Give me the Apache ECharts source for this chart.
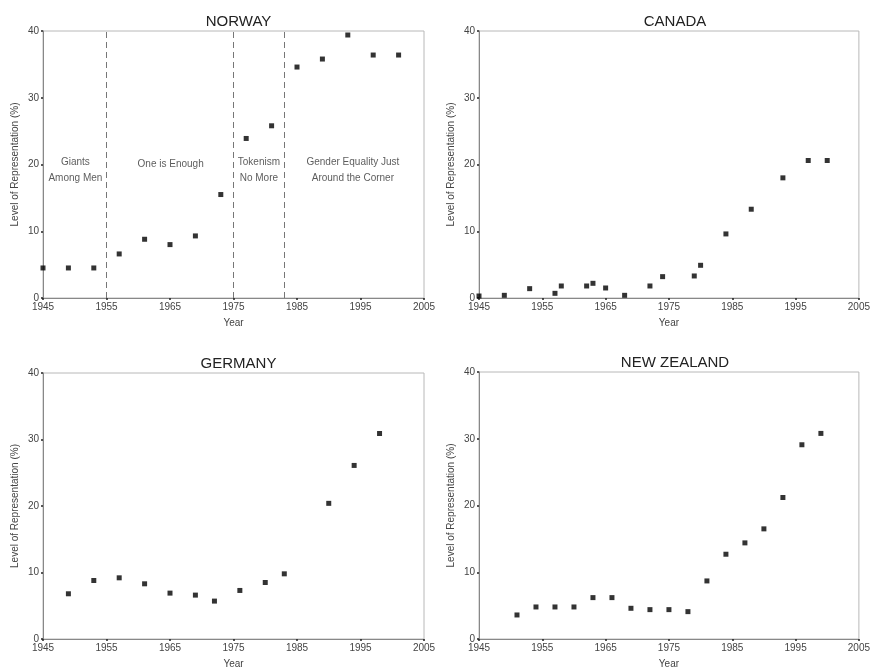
<!DOCTYPE html>
<html>
<head>
<meta charset="utf-8">
<script src="https://cdn.jsdelivr.net/npm/echarts@6/dist/echarts.min.js"></script>
<style>
html,body{margin:0;padding:0;background:#fff;}
#chart{width:873px;height:670px;}
</style>
</head>
<body>
<div id="chart"></div>
<script>
// ---- data ----
var panelTitles = ['NORWAY', 'CANADA', 'GERMANY', 'NEW ZEALAND'];
var xTicks = [1945, 1955, 1965, 1975, 1985, 1995, 2005];
var yTicks = [0, 10, 20, 30, 40];

var norwayYears  = [1945, 1949, 1953, 1957, 1961, 1965, 1969, 1973, 1977, 1981, 1985, 1989, 1993, 1997, 2001];
var norwayValues = [4.5, 4.5, 4.5, 6.6, 8.8, 8.0, 9.3, 15.5, 23.9, 25.8, 34.6, 35.8, 39.4, 36.4, 36.4];

var canadaYears  = [1945, 1949, 1953, 1957, 1958, 1962, 1963, 1965, 1968, 1972, 1974, 1979, 1980, 1984, 1988, 1993, 1997, 2000];
var canadaValues = [0.3, 0.4, 1.4, 0.7, 1.8, 1.8, 2.2, 1.5, 0.4, 1.8, 3.2, 3.3, 4.9, 9.6, 13.3, 18.0, 20.6, 20.6];

var germanyYears  = [1949, 1953, 1957, 1961, 1965, 1969, 1972, 1976, 1980, 1983, 1990, 1994, 1998];
var germanyValues = [6.8, 8.8, 9.2, 8.3, 6.9, 6.6, 5.7, 7.3, 8.5, 9.8, 20.4, 26.1, 30.9];

var nzYears  = [1951, 1954, 1957, 1960, 1963, 1966, 1969, 1972, 1975, 1978, 1981, 1984, 1987, 1990, 1993, 1996, 1999];
var nzValues = [3.6, 4.8, 4.8, 4.8, 6.2, 6.2, 4.6, 4.4, 4.4, 4.1, 8.7, 12.7, 14.4, 16.5, 21.2, 29.1, 30.8];

var eraBoundaries = [1955, 1975, 1983];
var eraLabels = ['Giants\nAmong Men', 'One is Enough', 'Tokenism\nNo More', 'Gender Equality Just\nAround the Corner'];
var eraLabelYears = [1950.1, 1965.1, 1979.0, 1993.8];
var eraLabelValues = [19.1, 20.0, 19.1, 19.1];

// ---- chart ----
var FONT = '"Liberation Sans", Arial, Helvetica, sans-serif';
var grids = [
  {left: 43, top: 31, width: 381, height: 267},
  {left: 479, top: 31, width: 382, height: 267},
  {left: 43, top: 373, width: 381, height: 267},
  {left: 479, top: 372, width: 382, height: 267}
];

function pairs(xs, ys) { return xs.map(function (x, i) { return [x, ys[i]]; }); }

var datasets = [
  pairs(norwayYears, norwayValues),
  pairs(canadaYears, canadaValues),
  pairs(germanyYears, germanyValues),
  pairs(nzYears, nzValues)
];

var option = {
  backgroundColor: '#fff',
  animation: false,
  textStyle: {fontFamily: FONT},
  title: grids.map(function (g, i) {
    return {
      text: panelTitles[i],
      left: g.left + g.width / 2,
      top: g.top - 22,
      textAlign: 'center',
      textStyle: {fontSize: 15, fontWeight: 'normal', color: '#222', fontFamily: FONT}
    };
  }),
  grid: grids.map(function (g) {
    return {left: g.left, top: g.top, width: g.width, height: g.height,
            show: true, borderColor: '#b8b8b8', borderWidth: 1, backgroundColor: 'transparent'};
  }),
  xAxis: grids.map(function (g, i) {
    return {
      type: 'value', gridIndex: i, min: xTicks[0], max: xTicks[xTicks.length - 1], interval: 10,
      name: 'Year', nameLocation: 'middle', nameGap: 20,
      nameTextStyle: {fontSize: 10, color: '#444', fontFamily: FONT},
      axisLine: {show: true, lineStyle: {color: '#888', width: 1}},
      axisTick: {show: true, length: 2, lineStyle: {color: '#222', width: 1.5}},
      axisLabel: {fontSize: 10, color: '#444', margin: 4, fontFamily: FONT,
                  formatter: function (v) { return String(v); }},
      splitLine: {show: false}
    };
  }),
  yAxis: grids.map(function (g, i) {
    return {
      type: 'value', gridIndex: i, min: yTicks[0], max: yTicks[yTicks.length - 1], interval: 10,
      name: 'Level of Representation (%)', nameLocation: 'middle', nameGap: 23,
      nameTextStyle: {fontSize: 10, color: '#444', fontFamily: FONT},
      axisLine: {show: true, lineStyle: {color: '#888', width: 1}},
      axisTick: {show: true, length: 2, lineStyle: {color: '#222', width: 1.5}},
      axisLabel: {fontSize: 10, color: '#444', margin: 4, fontFamily: FONT},
      splitLine: {show: false}
    };
  }),
  series: datasets.map(function (d, i) {
    var s = {
      type: 'scatter', xAxisIndex: i, yAxisIndex: i, data: d,
      symbol: 'rect', symbolSize: 5,
      itemStyle: {color: '#000'},
      z: 5
    };
    if (i === 0) {
      s.markLine = {
        silent: true, symbol: 'none',
        label: {show: false},
        lineStyle: {type: [6, 4], color: '#777', width: 1},
        data: eraBoundaries.map(function (x) { return {xAxis: x}; })
      };
    }
    return s;
  }).concat([{
    type: 'scatter', xAxisIndex: 0, yAxisIndex: 0,
    symbolSize: 0, silent: true,
    data: eraLabels.map(function (t, i) { return {value: [eraLabelYears[i], eraLabelValues[i]], name: t}; }),
    label: {
      show: true, position: 'inside', formatter: function (p) { return p.name; },
      fontSize: 10, lineHeight: 16, color: '#333', align: 'center', verticalAlign: 'middle', fontFamily: FONT
    }
  }])
};

var chart = echarts.init(document.getElementById('chart'), null, {renderer: 'canvas'});
chart.setOption(option);
</script>
</body>
</html>
